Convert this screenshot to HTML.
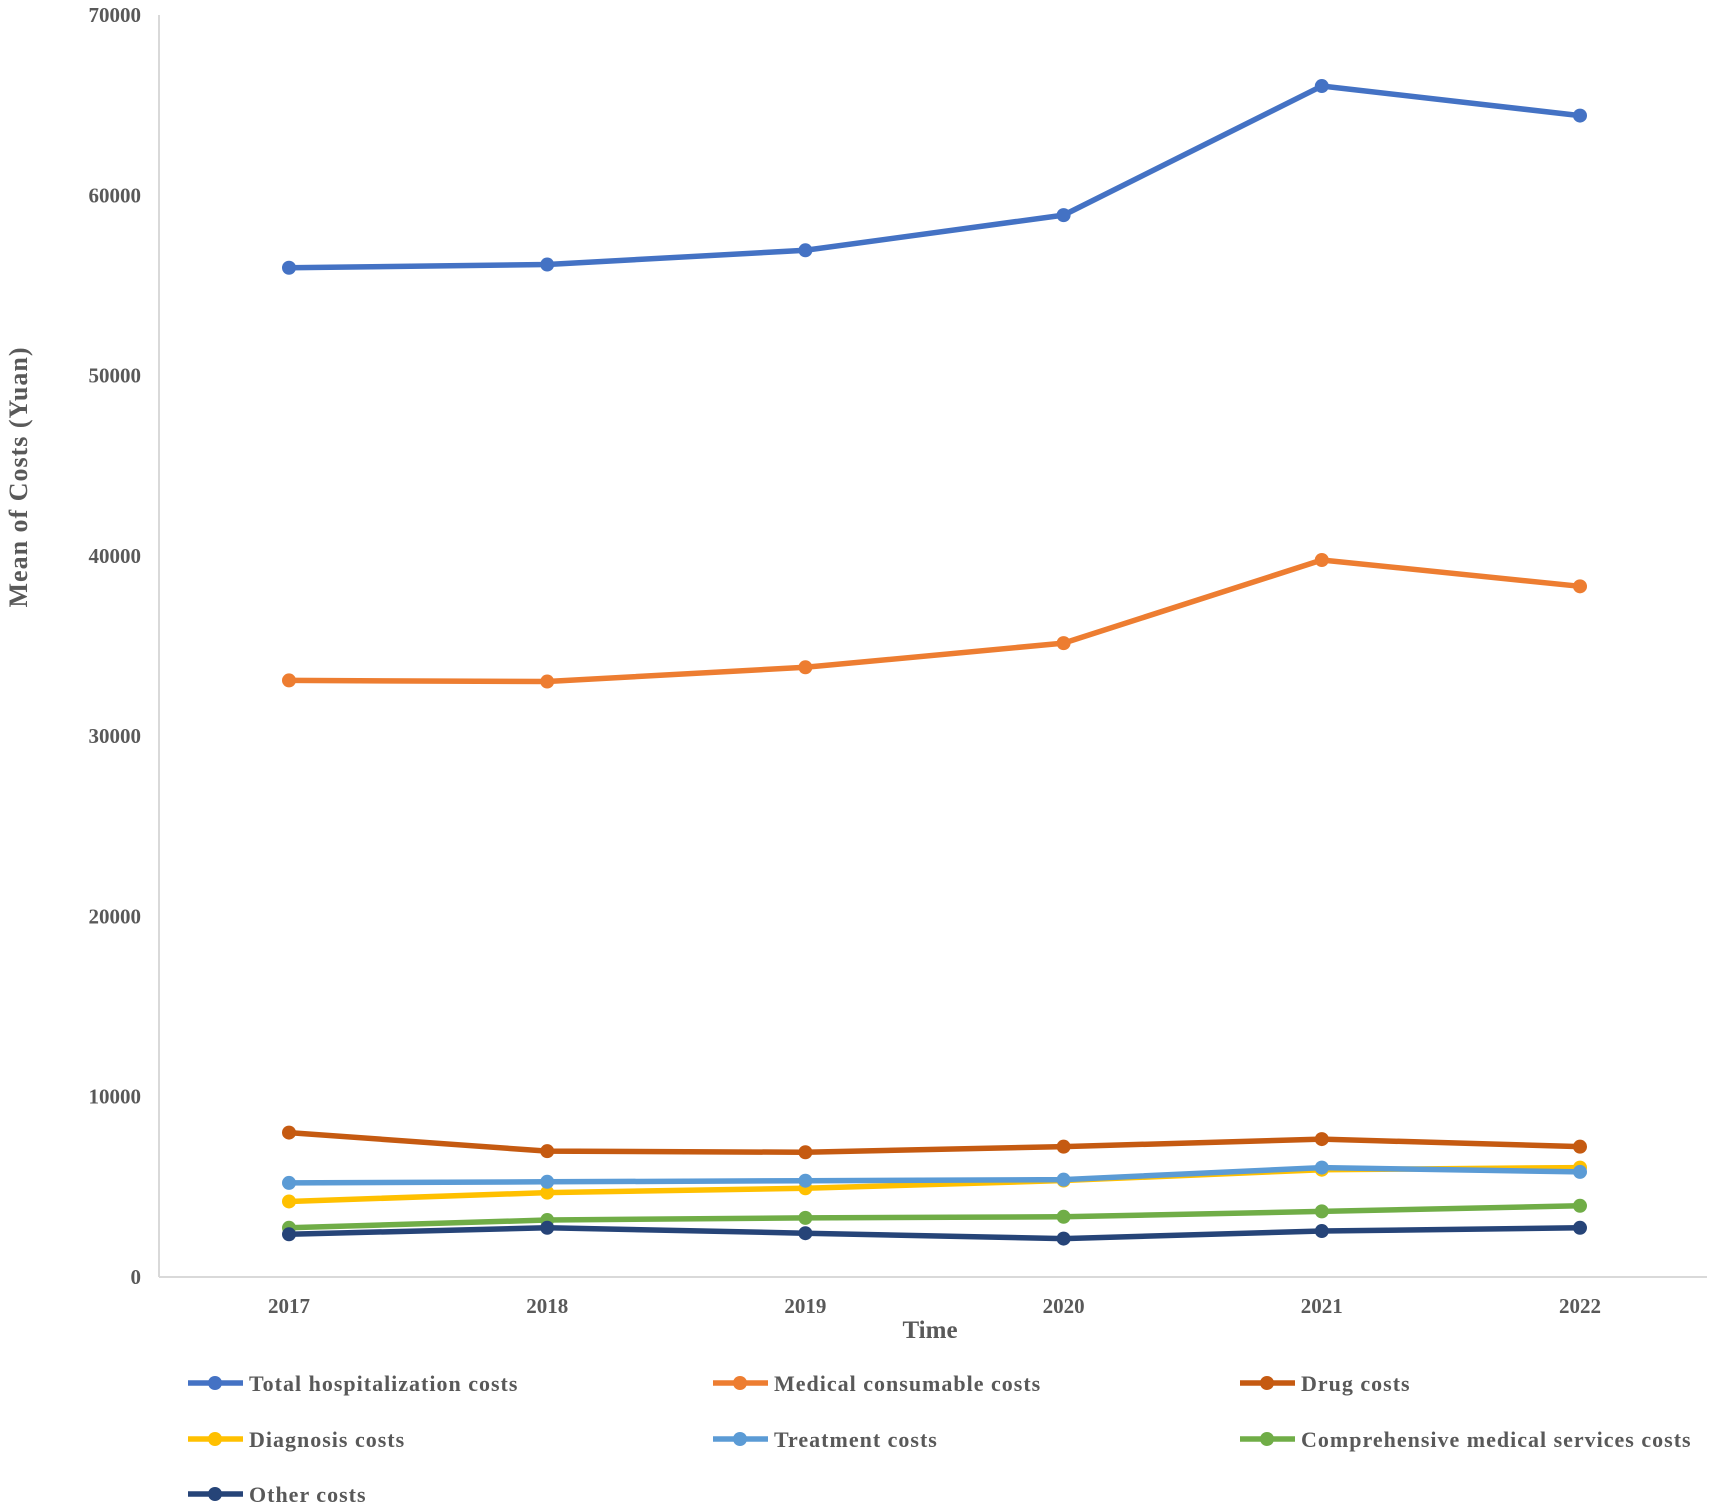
<!DOCTYPE html>
<html><head><meta charset="utf-8"><style>
body{margin:0;background:#fff}
svg text{font-family:"Liberation Serif",serif;font-weight:bold;fill:#595959}
</style></head><body>
<svg id="chart" width="1712" height="1507" xmlns="http://www.w3.org/2000/svg">
<g id="axes"></g>
<g id="series"></g>
<g id="legend"></g>
</svg>
<script>
const categories=["2017","2018","2019","2020","2021","2022"];
const yTicks=[0,10000,20000,30000,40000,50000,60000,70000];
const seriesNames=["Total hospitalization costs","Medical consumable costs","Drug costs","Diagnosis costs","Treatment costs","Comprehensive medical services costs","Other costs"];
const seriesColors=["#4472C4","#ED7D31","#C55A11","#FFC000","#5B9BD5","#70AD47","#264478"];
const totalVals=[55980,56160,56950,58900,66060,64420];
const medicalVals=[33090,33030,33820,35160,39770,38310];
const drugVals=[8010,6980,6920,7230,7650,7230];
const diagnosisVals=[4190,4680,4920,5350,5950,6070];
const treatmentVals=[5220,5280,5340,5400,6070,5830];
const comprehensiveVals=[2730,3160,3280,3340,3640,3950];
const otherVals=[2370,2730,2430,2130,2550,2730];
const allVals=[totalVals,medicalVals,drugVals,diagnosisVals,treatmentVals,comprehensiveVals,otherVals];

const NS="http://www.w3.org/2000/svg";
const x0=159,x1=1707,yBot=1277,yTop=15,yMax=70000;
const xs=i=>289+i*258.2;
const ys=v=>yBot-(v/yMax)*(yBot-yTop);
function mk(tag,attrs,parent,text){const e=document.createElementNS(NS,tag);for(const k in attrs)e.setAttribute(k,attrs[k]);if(text!==undefined)e.textContent=text;parent.appendChild(e);return e;}
const axes=document.getElementById('axes');
let e=mk('line',{x1:x0,y1:yTop,x2:x0,y2:yBot,stroke:'#d9d9d9','stroke-width':2},axes);


e=mk('line',{x1:x0,y1:yBot,x2:x1,y2:yBot,stroke:'#d9d9d9','stroke-width':2},axes);


yTicks.forEach(t=>{const el=mk('text',{x:141,y:ys(t)+7,'text-anchor':'end','font-size':21},axes,String(t));

});
categories.forEach((c,i)=>{const el=mk('text',{x:xs(i),y:1313,'text-anchor':'middle','font-size':21},axes,c);

});
e=mk('text',{x:930,y:1338,'text-anchor':'middle','font-size':25},axes,'Time');


e=mk('text',{x:0,y:0,'text-anchor':'middle','font-size':26,'letter-spacing':1,transform:'translate(27,477) rotate(-90)'},axes,'Mean of Costs (Yuan)');


const sg=document.getElementById('series');
allVals.forEach((vals,s)=>{
  const g=mk('g',{},sg);
  
  
  const pts=vals.map((v,i)=>xs(i)+','+ys(v)).join(' ');
  const pl=mk('polyline',{points:pts,fill:'none',stroke:seriesColors[s],'stroke-width':5.5,'stroke-linejoin':'round'},g);
  
  
  vals.forEach((v,i)=>{const c=mk('circle',{cx:xs(i),cy:ys(v),r:7,fill:seriesColors[s]},g);
  
  });
});
const lg=document.getElementById('legend');
const colX=[188,713,1240],rowY=[1383,1439,1494];
seriesNames.forEach((n,i)=>{
  const lx=colX[i%3],ly=rowY[Math.floor(i/3)];
  const g=mk('g',{},lg);
  
  
  mk('line',{x1:lx,y1:ly,x2:lx+55,y2:ly,stroke:seriesColors[i],'stroke-width':5.5},g);
  mk('circle',{cx:lx+27,cy:ly,r:7,fill:seriesColors[i]},g);
  mk('text',{x:lx+61,y:ly+8,'font-size':22,'letter-spacing':1},g,n);
});
</script>
</body></html>
